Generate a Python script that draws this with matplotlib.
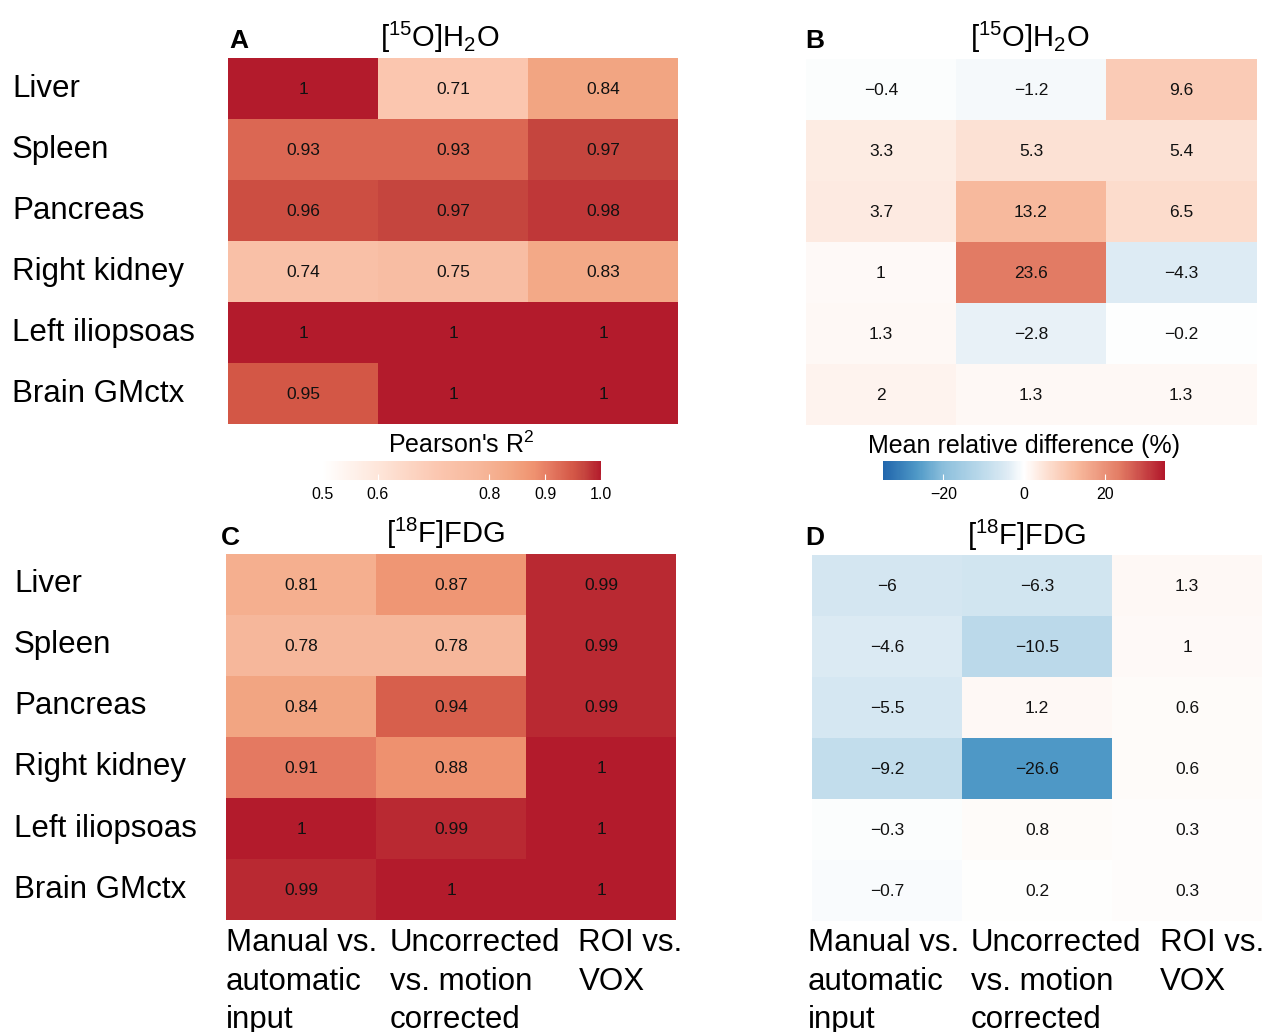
import numpy as np
import matplotlib
matplotlib.use("Agg")
import matplotlib.pyplot as plt
from matplotlib.colors import LinearSegmentedColormap, Normalize
from matplotlib.transforms import blended_transform_factory

plt.rcParams['font.family'] = ['Liberation Sans', 'DejaVu Sans']
plt.rcParams['mathtext.fontset'] = 'custom'
plt.rcParams['mathtext.rm'] = 'Liberation Sans'

organs = ['Liver', 'Spleen', 'Pancreas', 'Right kidney', 'Left iliopsoas', 'Brain GMctx']
comparisons = ['Manual vs.\nautomatic\ninput', 'Uncorrected\nvs. motion\ncorrected', 'ROI vs.\nVOX']

water_r2 = [[1, 0.71, 0.84],
            [0.93, 0.93, 0.97],
            [0.96, 0.97, 0.98],
            [0.74, 0.75, 0.83],
            [1, 1, 1],
            [0.95, 1, 1]]
water_diff = [[-0.4, -1.2, 9.6],
              [3.3, 5.3, 5.4],
              [3.7, 13.2, 6.5],
              [1, 23.6, -4.3],
              [1.3, -2.8, -0.2],
              [2, 1.3, 1.3]]
fdg_r2 = [[0.81, 0.87, 0.99],
          [0.78, 0.78, 0.99],
          [0.84, 0.94, 0.99],
          [0.91, 0.88, 1],
          [1, 0.99, 1],
          [0.99, 1, 1]]
fdg_diff = [[-6, -6.3, 1.3],
            [-4.6, -10.5, 1],
            [-5.5, 1.2, 0.6],
            [-9.2, -26.6, 0.6],
            [-0.3, 0.8, 0.3],
            [-0.7, 0.2, 0.3]]

r2_ticks = [0.5, 0.6, 0.8, 0.9, 1.0]
diff_ticks = [-20, 0, 20]

# colour scales
r2_lo, r2_hi = 0.5, 1.0
r2_nodes = [(0.5, '#FFFFFF'), (0.6, '#FEE6DA'), (0.71, '#FBC6AF'), (0.78, '#F7B89C'),
            (0.84, '#F3A683'), (0.88, '#EF9270'), (0.91, '#E47961'), (0.95, '#D45847'),
            (0.97, '#C6463F'), (1.0, '#B31B2C')]
diff_lo, diff_hi = -35, 35
diff_nodes = [(-35, '#2166AC'), (-26.6, '#4F99C7'), (-20, '#8CBFDC'), (-10.5, '#BCDAEB'),
              (-4.3, '#DDEBF4'), (0, '#FFFFFF'), (5.3, '#FDE2D5'), (13.2, '#F8BA9E'),
              (23.6, '#E37D65'), (35, '#B2182B')]


def make_cmap(nodes, lo, hi, name):
    return LinearSegmentedColormap.from_list(
        name, [((v - lo) / (hi - lo), c) for v, c in nodes])


r2_cmap = make_cmap(r2_nodes, r2_lo, r2_hi, 'r2')
diff_cmap = make_cmap(diff_nodes, diff_lo, diff_hi, 'diff')
r2_norm = Normalize(r2_lo, r2_hi)
diff_norm = Normalize(diff_lo, diff_hi)

W, H = 1262, 1032
fig = plt.figure(figsize=(W / 100, H / 100), dpi=100)


def px_axes(x0, y0, x1, y1):
    return fig.add_axes([x0 / W, 1 - y1 / H, (x1 - x0) / W, (y1 - y0) / H])


def fmt(v):
    return ('%g' % v).replace('-', '\u2212')


def heat(ax, data, cmap, norm):
    arr = np.array(data, dtype=float)
    ax.imshow(arr, cmap=cmap, norm=norm, aspect='auto', interpolation='nearest')
    for i in range(arr.shape[0]):
        for j in range(arr.shape[1]):
            ax.text(j, i + 0.02, fmt(arr[i, j]), ha='center', va='center', fontsize=12.5,
                    color='#111111')
    ax.set_xticks([])
    ax.set_yticks([])
    for s in ax.spines.values():
        s.set_visible(False)


def row_labels(ax, x_px):
    tr = blended_transform_factory(fig.transFigure, ax.transData)
    for i, name in enumerate(organs):
        ax.text(x_px / W, i, name, transform=tr, ha='left', va='center', fontsize=22.5)


label_offsets = [-0.5, 0.59, 1.85]


def col_labels(ax, y_px, shift=0.0):
    tr = blended_transform_factory(ax.transData, fig.transFigure)
    for j, lab in enumerate(comparisons):
        ax.text(label_offsets[j] + shift, 1 - y_px / H, lab, transform=tr, ha='left', va='top',
                fontsize=22.5, linespacing=1.37)


def colorbar(cax, cmap, norm, ticks, title, fmt_ticks):
    sm = plt.cm.ScalarMappable(norm=norm, cmap=cmap)
    cb = fig.colorbar(sm, cax=cax, orientation='horizontal')
    cb.outline.set_visible(False)
    cb.set_ticks(ticks)
    cb.set_ticklabels([fmt_ticks(t) for t in ticks])
    cax.tick_params(axis='x', direction='in', length=4, color='white', labelsize=11.5, pad=5)
    cax.set_title(title, fontsize=18, pad=6)


title_water = r'[$\mathregular{^{15}}$O]H$\mathregular{_2}$O'
title_fdg = r'[$\mathregular{^{18}}$F]FDG'

axA = px_axes(228, 58, 678, 424)
heat(axA, water_r2, r2_cmap, r2_norm)
row_labels(axA, 12)
axB = px_axes(806, 59, 1256, 425)
heat(axB, water_diff, diff_cmap, diff_norm)
axC = px_axes(226, 554, 676, 920)
heat(axC, fdg_r2, r2_cmap, r2_norm)
row_labels(axC, 14)
col_labels(axC, 928)
axD = px_axes(812, 555, 1262, 921)
heat(axD, fdg_diff, diff_cmap, diff_norm)
col_labels(axD, 928, shift=-0.03)

fig.text(440 / W, 1 - 37 / H, title_water, ha='center', va='center', fontsize=21)
fig.text(1030 / W, 1 - 37 / H, title_water, ha='center', va='center', fontsize=21)
fig.text(446 / W, 1 - 533 / H, title_fdg, ha='center', va='center', fontsize=21)
fig.text(1027 / W, 1 - 535 / H, title_fdg, ha='center', va='center', fontsize=21)

for lab, x, y in [('A', 229, 41), ('B', 805, 41), ('C', 221, 538), ('D', 805, 538)]:
    fig.text(x / W, 1 - y / H, lab, ha='left', va='center', fontsize=19, fontweight='bold')

caxA = px_axes(322, 461, 601, 480)
colorbar(caxA, r2_cmap, r2_norm, r2_ticks, "Pearson's R$\\mathregular{^2}$", lambda t: '%.1f' % t)
caxB = px_axes(883, 461, 1165, 480)
colorbar(caxB, diff_cmap, diff_norm, diff_ticks, 'Mean relative difference (%)', fmt)

fig.savefig('out.png', dpi=100)
